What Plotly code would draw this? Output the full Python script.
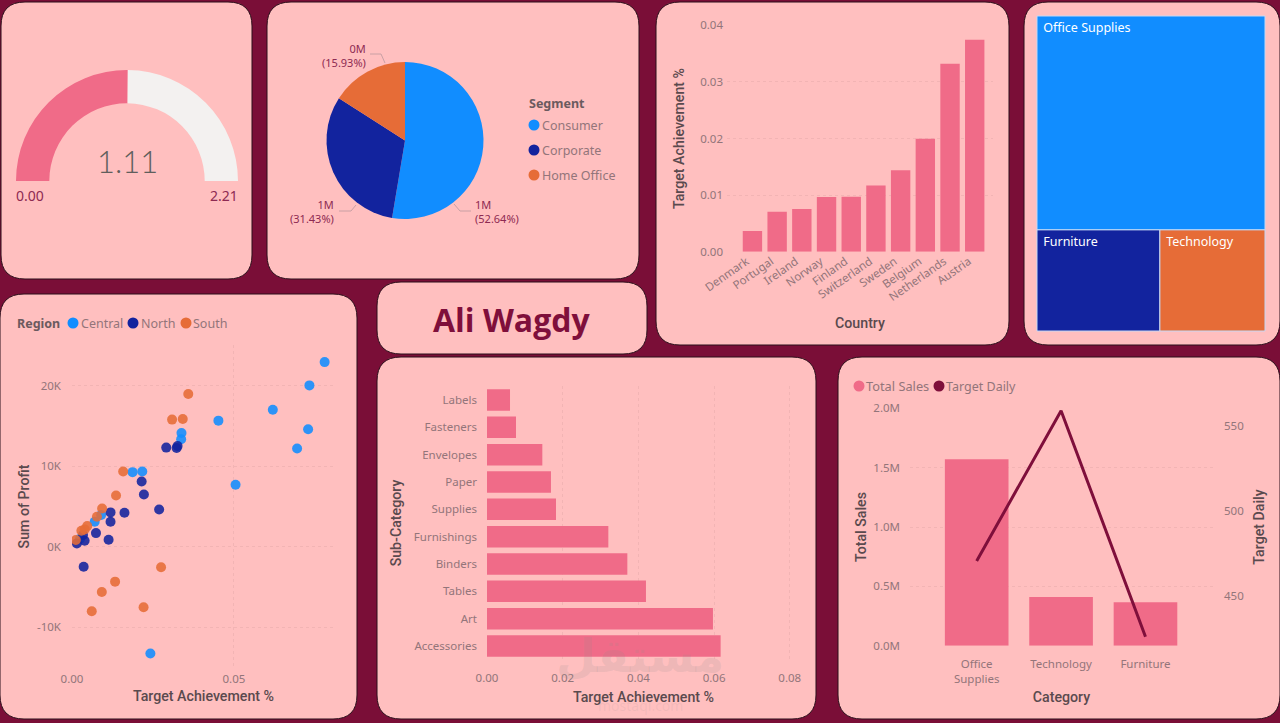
"""Sales dashboard, rebuilt as one Plotly figure."""
import plotly.graph_objects as go

# # Data
# -----------------------------------------------------|
gauge_value = 1.11
gauge_max = 2.21

segments = ['Consumer', 'Corporate', 'Home Office']
segment_share = [52.64, 31.43, 15.93]

countries = ['Denmark', 'Portugal', 'Ireland', 'Norway', 'Finland',
             'Switzerland', 'Sweden', 'Belgium', 'Netherlands', 'Austria']
country_target = [0.00365, 0.00707, 0.00754, 0.00966, 0.00972,
                  0.0117, 0.01437, 0.01996, 0.0332, 0.03746]

tree_labels = ['Office Supplies', 'Furniture', 'Technology']
tree_values = [67.9, 17.3, 14.8]

central_x = [0.0780, 0.0733, 0.0620, 0.0729, 0.0695, 0.0452, 0.0505, 0.0338,
             0.0337, 0.0187, 0.0217, 0.0242, 0.0070, 0.0090, 0.0025]
central_y = [22930, 20040, 17020, 14590, 12190, 15660, 7690, 14130,
             13350, 9260, 9340, -13260, 3100, 3930, 1000]
north_x = [0.0291, 0.0323, 0.0326, 0.0215, 0.0222, 0.0269, 0.0119, 0.0162,
           0.0119, 0.0113, 0.0074, 0.0036, 0.0015, 0.0039, 0.0034]
north_y = [12310, 12270, 12520, 8100, 6490, 4630, 4260, 4210,
           3100, 870, 1690, -2480, 410, 740, 1450]
south_x = [0.0359, 0.0309, 0.0342, 0.0158, 0.0136, 0.0093, 0.0077, 0.0047,
           0.0039, 0.0029, 0.0012, 0.0275, 0.0133, 0.0092, 0.0061, 0.0221]
south_y = [18970, 15790, 15870, 9340, 6360, 4750, 3720, 2560,
           2150, 1980, 830, -2560, -4340, -5620, -8020, -7520]

subcats = ['Labels', 'Fasteners', 'Envelopes', 'Paper', 'Supplies',
           'Furnishings', 'Binders', 'Tables', 'Art', 'Accessories']
subcat_target = [0.00608, 0.00766, 0.01462, 0.0169, 0.01823,
                 0.03206, 0.03708, 0.0420, 0.0597, 0.06173]

categories = ['Office<br>Supplies', 'Technology', 'Furniture']
total_sales = [1570000, 410000, 365000]
target_daily = [470.4, 558.8, 425.9]

# # Style
# -----------------------------------------------------|
W, H = 1280, 723
BACK = '#7A0E37'
CARD = '#FFBFBF'
PINK = '#F06B88'
BLUE = '#118DFF'
NAVY = '#12239E'
ORANGE = '#E66C37'
WINE = '#7F0F3B'
TICK = '#93757A'
TITLE = '#5A4A4E'
GRID = 'rgba(190,140,140,0.2)'
BODY = 'Noto Sans'
HEAD = 'Roboto'


def dx(left, right):
    """Return x domain from pixel edges."""
    return [left / W, right / W]


def dy(top, bottom):
    """Return y domain from pixel edges."""
    return [1 - bottom / H, 1 - top / H]


def card(left, top, right, bottom, rad=24):
    """Return a rounded panel shape from pixel edges."""
    x0, x1 = left / W, right / W
    y0, y1 = 1 - bottom / H, 1 - top / H
    rx, ry = rad / W, rad / H
    path = (f'M {x0 + rx} {y1} L {x1 - rx} {y1} Q {x1} {y1} {x1} {y1 - ry} '
            f'L {x1} {y0 + ry} Q {x1} {y0} {x1 - rx} {y0} '
            f'L {x0 + rx} {y0} Q {x0} {y0} {x0} {y0 + ry} '
            f'L {x0} {y1 - ry} Q {x0} {y1} {x0 + rx} {y1} Z')
    return dict(type='path', path=path, xref='paper', yref='paper',
                fillcolor=CARD, line=dict(color='#2B0F1A', width=1),
                layer='below')


def dot(xpos, ypos, color, rad=5.5):
    """Return a legend dot shape at a pixel position."""
    return dict(type='circle', xref='paper', yref='paper',
                x0=(xpos - rad) / W, x1=(xpos + rad) / W,
                y0=1 - (ypos + rad) / H, y1=1 - (ypos - rad) / H,
                fillcolor=color, line=dict(width=0))


def leader(points):
    """Return a thin pie leader line through pixel points."""
    cmds = [f'{x / W} {1 - y / H}' for x, y in points]
    return dict(type='path', path='M ' + ' L '.join(cmds), xref='paper',
                yref='paper', line=dict(color='#C9A0A4', width=1))


def note(text, xpos, ypos, size=12.5, color=TICK, anchor='left', **font):
    """Return a text annotation at a pixel position."""
    return dict(text=text, x=xpos / W, y=1 - ypos / H, xref='paper',
                yref='paper', xanchor=anchor, yanchor='middle',
                showarrow=False, align=anchor if anchor != 'center' else 'center',
                font=dict(family=font.pop('family', BODY), size=size,
                          color=color, **font))


def axis(domain, anchor, title='', standoff=None, **kwargs):
    """Return a dashboard axis dict."""
    out = dict(domain=domain, anchor=anchor, showline=False, zeroline=False,
               ticks='', showgrid=True, gridcolor=GRID, griddash='dot',
               automargin=False,
               tickfont=dict(family=BODY, size=11.5, color=TICK))
    if title:
        out['title'] = dict(text=title, standoff=standoff,
                            font=dict(family=HEAD, size=14.2, color=TITLE,
                                      weight=500))
    out.update(kwargs)
    return out


# # Traces
# -----------------------------------------------------|
traces = [
    # half donut gauge, the lower half stays invisible
    go.Pie(values=[gauge_value, gauge_max - gauge_value, gauge_max],
           domain=dict(x=dx(16, 238), y=dy(70, 292)), hole=0.7, rotation=270,
           direction='clockwise', sort=False, textinfo='none',
           marker=dict(colors=[PINK, '#F3F1F0', 'rgba(0,0,0,0)'],
                       line=dict(width=0)),
           showlegend=False),
    go.Pie(labels=segments, values=segment_share,
           domain=dict(x=dx(326, 484), y=dy(62, 219)), rotation=0,
           direction='clockwise', sort=False, textinfo='none',
           marker=dict(colors=[BLUE, NAVY, ORANGE], line=dict(width=0)),
           showlegend=False),
    go.Bar(x=countries, y=country_target, xaxis='x', yaxis='y',
           marker=dict(color=PINK, line=dict(width=0)), showlegend=False),
    go.Treemap(labels=tree_labels, parents=['', '', ''], values=tree_values,
               domain=dict(x=dx(1037, 1265), y=dy(16, 331)),
               texttemplate='&nbsp;%{label}', textposition='top left',
               textfont=dict(family=BODY, size=12.5, color='white'),
               marker=dict(colors=[BLUE, NAVY, ORANGE], pad=dict(t=0, l=0, r=0, b=0),
                           line=dict(color='#C4D8F5', width=1)),
               tiling=dict(packing='squarify', pad=0),
               pathbar=dict(visible=False), sort=True),
    go.Scatter(x=central_x, y=central_y, xaxis='x2', yaxis='y2', mode='markers',
               marker=dict(color=BLUE, size=10, opacity=0.88), showlegend=False),
    go.Scatter(x=north_x, y=north_y, xaxis='x2', yaxis='y2', mode='markers',
               marker=dict(color=NAVY, size=10, opacity=0.88), showlegend=False),
    go.Scatter(x=south_x, y=south_y, xaxis='x2', yaxis='y2', mode='markers',
               marker=dict(color=ORANGE, size=10, opacity=0.88), showlegend=False),
    go.Bar(y=subcats, x=subcat_target, orientation='h', xaxis='x3', yaxis='y3',
           marker=dict(color=PINK, line=dict(width=0)), showlegend=False),
    go.Bar(x=categories, y=total_sales, xaxis='x4', yaxis='y4', width=0.754,
           marker=dict(color=PINK, line=dict(width=0)), showlegend=False),
    go.Scatter(x=categories, y=target_daily, xaxis='x4', yaxis='y5',
               mode='lines', line=dict(color=WINE, width=3), showlegend=False),
]

# # Layout
# -----------------------------------------------------|
shapes = [
    card(1, 2, 252, 279), card(267, 2, 639, 279), card(656, 2, 1009, 345),
    card(1024, 2, 1280, 345), card(0, 294, 357, 719),
    card(377, 282, 647, 354), card(377, 357, 816, 719),
    card(838, 357, 1280, 719),
    leader([(370, 54), (381, 54), (385, 63)]),
    leader([(339, 211), (351, 211), (356, 205)]),
    leader([(454, 204), (460, 211), (471, 211)]),
    dot(534, 125, BLUE), dot(534, 150, NAVY), dot(534, 175, ORANGE),
    dot(73, 323, BLUE), dot(133, 323, NAVY), dot(186, 323, ORANGE),
    dot(859, 386, PINK), dot(939, 386, WINE),
]

annotations = [
    note(f'{gauge_value:.2f}', 127, 161, size=31, color='#605E5C',
         anchor='center', family='Lato', weight=300),
    note('0.00', 14, 196, size=14, color='#8E2A52'),
    note(f'{gauge_max:.2f}', 240, 196, size=14, color='#8E2A52', anchor='right'),
    note('0M<br>(15.93%)', 368, 56, size=11, color='#8E2A52', anchor='right'),
    note('1M<br>(31.43%)', 336, 211, size=11, color='#8E2A52', anchor='right'),
    note('1M<br>(52.64%)', 473, 211, size=11, color='#8E2A52'),
    note('Segment', 527, 104, size=12.5, color='#6B5A5E', weight=700),
    note(segments[0], 540, 125, size=12.5),
    note(segments[1], 540, 150, size=12.5),
    note(segments[2], 540, 175, size=12.5),
    note('Region', 15, 323, size=12.5, color='#6B5A5E', weight=700),
    note('Central', 79, 323, size=12.5),
    note('North', 139, 323, size=12.5),
    note('South', 191, 323, size=12.5),
    note('Total Sales', 864, 386, size=12.8),
    note('Target Daily', 944, 386, size=12.5),
    note('Ali Wagdy', 512, 319, size=32, color=WINE, anchor='center',
         family='Open Sans', weight=700),
    note('مستقل', 640, 656, size=46, color='rgba(150,140,140,0.16)',
         anchor='center', family='DejaVu Sans', weight=700),
    note('mostaql.com', 640, 705, size=14, color='rgba(150,140,140,0.12)',
         anchor='center'),
]

fig = go.Figure(data=traces)
fig.update_layout(
    width=W, height=H, autosize=False,
    margin=dict(l=0, r=0, t=0, b=0, pad=0, autoexpand=False),
    paper_bgcolor=BACK, plot_bgcolor='rgba(0,0,0,0)',
    bargap=0.215, showlegend=False, shapes=shapes, annotations=annotations,
    xaxis=axis(dx(727, 993), 'y', 'Country', 15, showgrid=False,
               type='category', tickangle=-35, range=[-1.03, 9.74],
               ticklabelshift=-6),
    yaxis=axis(dy(25.3, 251.7), 'x', 'Target Achievement %', 12,
               range=[0, 0.04], tickvals=[0, 0.01, 0.02, 0.03, 0.04],
               tickformat='.2f', ticklabelstandoff=3),
    xaxis2=axis(dx(72, 335), 'y2', 'Target Achievement %', 6,
                range=[0, 0.0812], tickvals=[0, 0.05], tickformat='.2f',
                ticklabelstandoff=2),
    yaxis2=axis(dy(345, 668), 'x2', 'Sum of Profit', 4,
                range=[-15068, 25056], tickvals=[-10000, 0, 10000, 20000],
                ticktext=['-10K', '0K', '10K', '20K'], ticklabelstandoff=10),
    xaxis3=axis(dx(487, 800), 'y3', 'Target Achievement %', 7,
                range=[0, 0.0827], tickvals=[0, 0.02, 0.04, 0.06, 0.08],
                tickformat='.2f', ticklabelstandoff=10),
    yaxis3=axis(dy(386.3, 659.7), 'x3', 'Sub-Category', 8, showgrid=False,
                type='category', autorange='reversed', ticklabelstandoff=9),
    xaxis4=axis(dx(910, 1213), 'y4', 'Category', 6, showgrid=False,
                type='category', range=[-0.79, 2.80], ticklabelstandoff=10),
    yaxis4=axis(dy(408.3, 645.7), 'x4', 'Total Sales', 3, range=[0, 2000000],
                tickvals=[0, 500000, 1000000, 1500000, 2000000],
                ticktext=['0.0M', '0.5M', '1.0M', '1.5M', '2.0M'],
                ticklabelstandoff=9),
    yaxis5=axis(dy(408.3, 645.7), 'x4', 'Target Daily', 10, overlaying='y4',
                side='right', showgrid=False, range=[420.6, 560.2],
                tickvals=[450, 500, 550], ticklabelstandoff=10),
)

# drop the default page margin so the picture fills the window
fig.write_html('out.html', config=dict(displayModeBar=False),
               post_script="document.body.style.margin='0';")
